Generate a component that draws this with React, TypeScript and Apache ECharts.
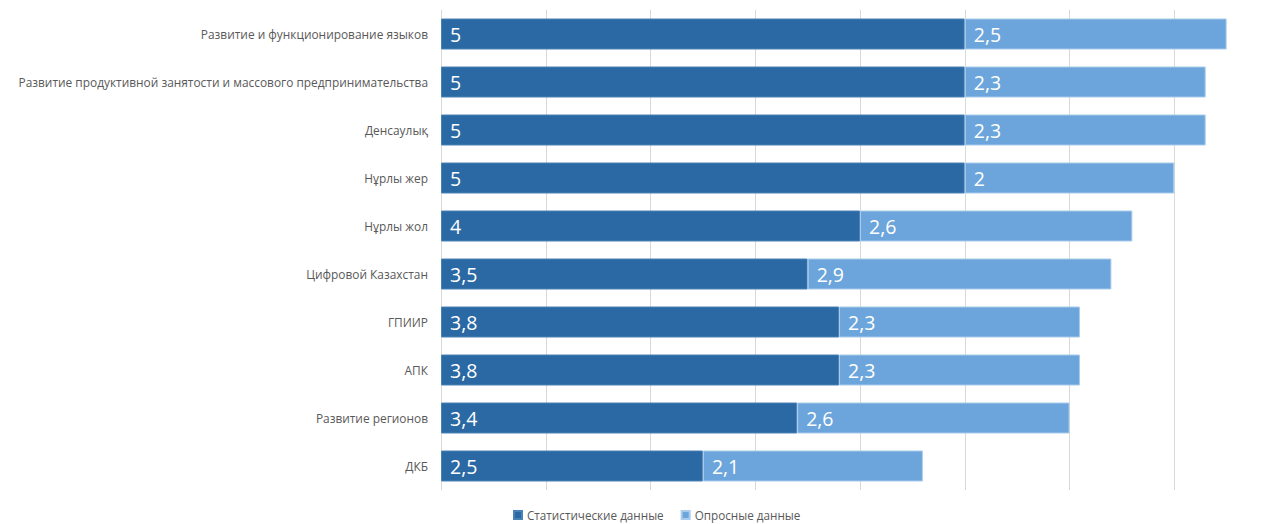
import React, { useEffect, useRef } from "react";
import * as echarts from "echarts";

const categories = [
  "Развитие и функционирование языков",
  "Развитие продуктивной занятости и массового предпринимательства",
  "Денсаулық",
  "Нұрлы жер",
  "Нұрлы жол",
  "Цифровой Казахстан",
  "ГПИИР",
  "АПК",
  "Развитие регионов",
  "ДКБ",
];
const statData = [5, 5, 5, 5, 4, 3.5, 3.8, 3.8, 3.4, 2.5];
const surveyData = [2.5, 2.3, 2.3, 2, 2.6, 2.9, 2.3, 2.3, 2.6, 2.1];
const seriesNames = ["Статистические данные", "Опросные данные"];

const FONT = "'Open Sans', 'Noto Sans', sans-serif";

export default function App() {
  const ref = useRef<HTMLDivElement>(null);
  useEffect(() => {
    if (!ref.current) return;
    const chart = echarts.init(ref.current, null, { renderer: "svg" });
    const label = {
      show: true,
      position: "insideLeft" as const,
      distance: 9,
      color: "#ffffff",
      fontSize: 19.5,
      fontFamily: FONT,
      formatter: (p: any) => String(p.value).replace(".", ","),
    };
    chart.setOption({
      animation: false,
      textStyle: { fontFamily: FONT },
      grid: {
        left: 441,
        right: -11,
        top: 10,
        bottom: 34,
        containLabel: false,
        outerBoundsMode: "none",
      },
      legend: {
        data: seriesNames,
        bottom: -2,
        left: 508,
        itemWidth: 8,
        itemHeight: 8,
        itemGap: 17,
        icon: "rect",
        textStyle: { color: "#595959", fontSize: 11.7, fontFamily: FONT },
      },
      xAxis: {
        type: "value",
        min: 0,
        max: 8,
        interval: 1,
        axisLabel: { show: false },
        axisLine: { show: false },
        axisTick: { show: false },
        splitLine: { show: true, lineStyle: { color: "#d9d9d9", width: 1 } },
      },
      yAxis: {
        type: "category",
        data: categories,
        inverse: true,
        axisLine: { show: true, lineStyle: { color: "#d9d9d9" } },
        axisTick: { show: false },
        axisLabel: { color: "#595959", fontSize: 11.9, margin: 13, fontFamily: FONT },
      },
      series: [
        {
          name: seriesNames[0],
          type: "bar",
          stack: "total",
          data: statData,
          barWidth: 31,
          itemStyle: { color: "#2a69a4", borderColor: "#4a82b8", borderWidth: 1 },
          label,
        },
        {
          name: seriesNames[1],
          type: "bar",
          stack: "total",
          data: surveyData,
          barWidth: 31,
          itemStyle: { color: "#6ca5db", borderColor: "#a9cbec", borderWidth: 1 },
          label,
        },
      ],
    });
    return () => chart.dispose();
  }, []);
  return (
    <div
      ref={ref}
      style={{ position: "fixed", left: 0, top: 0, width: 1268, height: 524, background: "#fff" }}
    />
  );
}
